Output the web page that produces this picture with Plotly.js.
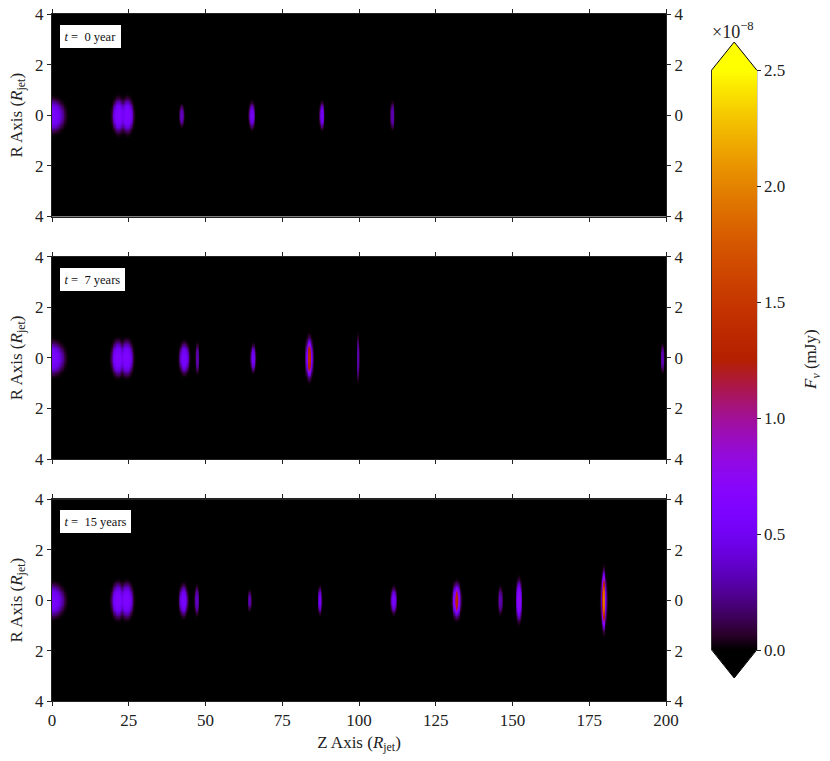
<!DOCTYPE html>
<html>
<head>
<meta charset="utf-8">
<script src="https://cdn.plot.ly/plotly-3.0.1.min.js"></script>
<style>html,body{margin:0;padding:0;background:#fff;}#plot{width:830px;height:761px;}</style>
</head>
<body>
<div id="plot"></div>
<script>
// ---------------- DATA (flux in units of 1e-8 mJy) ----------------
var panelLabels = ["<i>t</i> =  0 year", "<i>t</i> =  7 years", "<i>t</i> =  15 years"];
var xTicks = [0, 25, 50, 75, 100, 125, 150, 175, 200];
var yTickVals = [-4, -2, 0, 2, 4];
var yTickText = ["4", "2", "0", "2", "4"];
var cbTicks = [0, 0.5, 1.0, 1.5, 2.0, 2.5];
var cbTickText = ["0.0", "0.5", "1.0", "1.5", "2.0", "2.5"];

// knots: centre along Z, half-width in Z, half-height in R, peak flux
var knotZ_t0    = [0, 21.6, 24.4, 42.2, 65.0, 87.8, 110.8];
var knotW_t0    = [4.8, 2.5, 2.5, 0.9, 1.1, 1.0, 0.8];
var knotH_t0    = [0.75, 0.78, 0.78, 0.5, 0.6, 0.6, 0.6];
var knotPeak_t0 = [0.55, 0.6, 0.6, 0.35, 0.5, 0.5, 0.3];

var knotZ_t7    = [0, 21.4, 24.2, 43.0, 47.2, 65.4, 83.7, 83.7, 99.6, 198.8];
var knotW_t7    = [4.8, 2.6, 2.6, 2.0, 0.8, 1.1, 1.5, 0.9, 0.5, 0.8];
var knotH_t7    = [0.75, 0.8, 0.8, 0.7, 0.65, 0.6, 0.95, 0.85, 1.0, 0.6];
var knotPeak_t7 = [0.55, 0.6, 0.6, 0.55, 0.3, 0.5, 0.75, 1.4, 0.3, 0.3];

var knotZ_t15    = [0, 21.4, 24.2, 42.7, 47.0, 64.3, 87.2, 111.2, 131.7, 131.7, 145.9, 152.0, 179.6, 179.6, 179.6];
var knotW_t15    = [4.8, 2.6, 2.6, 1.7, 0.9, 0.6, 0.8, 1.1, 1.7, 0.9, 0.9, 1.1, 1.2, 0.7, 0.45];
var knotH_t15    = [0.75, 0.8, 0.8, 0.7, 0.65, 0.45, 0.6, 0.6, 0.8, 0.7, 0.6, 0.95, 1.25, 1.3, 1.15];
var knotPeak_t15 = [0.55, 0.6, 0.6, 0.55, 0.35, 0.3, 0.5, 0.55, 0.75, 1.35, 0.3, 0.75, 0.75, 1.6, 1.95];

var panels = [
  {z: knotZ_t0, w: knotW_t0, h: knotH_t0, p: knotPeak_t0},
  {z: knotZ_t7, w: knotW_t7, h: knotH_t7, p: knotPeak_t7},
  {z: knotZ_t15, w: knotW_t15, h: knotH_t15, p: knotPeak_t15}
];

// ---------------- grid ----------------
var zGrid = [], rGrid = [];
for (var i = 0; i <= 800; i++) zGrid.push(i * 0.25);
for (var j = 0; j <= 160; j++) rGrid.push(-4 + j * 0.05);

function buildMap(k) {
  var out = [];
  for (var j = 0; j < rGrid.length; j++) {
    var row = new Array(zGrid.length).fill(0);
    for (var b = 0; b < k.z.length; b++) {
      for (var i = 0; i < zGrid.length; i++) {
        var dz = (zGrid[i] - k.z[b]) / k.w[b];
        if (Math.abs(dz) > 1.6) continue;
        var dr = rGrid[j] / k.h[b];
        var d2 = dz * dz + dr * dr;
        var v = k.p[b] * Math.exp(-3 * d2 * d2);
        if (v > row[i]) row[i] = v;
      }
    }
    out.push(row);
  }
  return out;
}

// gnuplot colormap
var cscale = [];
for (var s = 0; s <= 40; s++) {
  var x = s / 40;
  var r = Math.sqrt(x), g = Math.pow(x, 3), bl = Math.max(0, Math.sin(2 * Math.PI * x));
  cscale.push([x, 'rgb(' + Math.round(r * 255) + ',' + Math.round(g * 255) + ',' + Math.round(bl * 255) + ')']);
}

// ---------------- layout helpers ----------------
var W = 830, H = 761;
function px(x) { return x / W; }
function py(y) { return 1 - y / H; }

var plotL = 52, plotR = 666;
var panelTops = [14, 256.7, 499.3], panelBots = [216.5, 459, 701];

var FONT = "Liberation Serif, Times New Roman, serif";
var traces = [];
var layout = {
  width: W, height: H,
  margin: {l: 0, r: 0, t: 0, b: 0},
  paper_bgcolor: 'white', plot_bgcolor: 'black',
  showlegend: false,
  font: {family: FONT, size: 17, color: '#222'},
  coloraxis: {
    cmin: 0, cmax: 2.5, colorscale: cscale,
    colorbar: {
      x: px(711.7), xanchor: 'left', xpad: 0, ypad: 0,
      y: (py(650) + py(70)) / 2, yanchor: 'middle',
      len: py(70) - py(650), lenmode: 'fraction',
      thickness: 45, thicknessmode: 'pixels',
      outlinewidth: 0,
      ticks: 'outside', ticklen: 4, tickcolor: '#222',
      tickvals: cbTicks, ticktext: cbTickText,
      tickfont: {family: FONT, size: 17, color: '#222'}
    }
  },
  annotations: [],
  shapes: []
};

for (var p = 0; p < 3; p++) {
  var n = p + 1, m = p + 4;
  var xn = n === 1 ? 'x' : 'x' + n;
  var yn = n === 1 ? 'y' : 'y' + n;
  traces.push({
    type: 'heatmap', x: zGrid, y: rGrid, z: buildMap(panels[p]),
    coloraxis: 'coloraxis', zsmooth: 'best', xaxis: xn, yaxis: yn,
    hoverinfo: 'skip'
  });
  traces.push({type: 'scatter', x: [], y: [], xaxis: xn, yaxis: 'y' + m, showlegend: false});

  var xa = {
    domain: [px(plotL), px(plotR)], anchor: yn, range: [0, 200],
    tickvals: xTicks, ticks: 'outside', ticklen: 4, tickcolor: '#222',
    showline: true, linecolor: '#222', linewidth: 1, mirror: 'ticks',
    showgrid: false, zeroline: false, showticklabels: p === 2,
    tickfont: {family: FONT, size: 17, color: '#222'}
  };
  if (p === 2) xa.title = {text: 'Z Axis (<i>R</i><sub>jet</sub>)', font: {family: FONT, size: 17, color: '#222'}, standoff: 6};
  layout['xaxis' + (n === 1 ? '' : n)] = xa;

  var dom = [py(panelBots[p]), py(panelTops[p])];
  layout['yaxis' + (n === 1 ? '' : n)] = {
    domain: dom, anchor: xn, range: [-4, 4],
    tickvals: yTickVals, ticktext: yTickText, ticks: 'outside', ticklen: 4, tickcolor: '#222',
    showline: true, linecolor: '#222', linewidth: 1,
    showgrid: false, zeroline: false,
    tickfont: {family: FONT, size: 17, color: '#222'},
    title: {text: 'R Axis (<i>R</i><sub>jet</sub>)', font: {family: FONT, size: 17, color: '#222'}, standoff: 8}
  };
  layout['yaxis' + m] = {
    overlaying: yn, side: 'right', anchor: xn, range: [-4, 4],
    tickvals: yTickVals, ticktext: yTickText, ticks: 'outside', ticklen: 4, tickcolor: '#222',
    showline: true, linecolor: '#222', linewidth: 1,
    showgrid: false, zeroline: false,
    tickfont: {family: FONT, size: 17, color: '#222'}
  };

  layout.annotations.push({
    xref: xn + ' domain', yref: yn + ' domain',
    x: 0.013, y: 0.945, xanchor: 'left', yanchor: 'top',
    text: panelLabels[p], showarrow: false,
    font: {family: FONT, size: 12.5, color: '#111'},
    bgcolor: 'white', bordercolor: 'white', borderpad: 3.5
  });
}

// colorbar title and multiplier
layout.annotations.push({
  xref: 'paper', yref: 'paper', x: px(733), y: py(31), xanchor: 'center', yanchor: 'middle',
  text: '×10<sup>−8</sup>', showarrow: false, font: {family: FONT, size: 18, color: '#222'}
});
layout.annotations.push({
  xref: 'paper', yref: 'paper', x: px(812), y: py(360), xanchor: 'center', yanchor: 'middle',
  text: '<i>F</i><sub><i>ν</i></sub> (mJy)', textangle: -90, showarrow: false,
  font: {family: FONT, size: 17, color: '#222'}
});

// extend triangles and outline of the colorbar
var cx1 = px(711.7), cx2 = px(756.7), cxm = px(734.2);
layout.shapes.push({
  type: 'path', xref: 'paper', yref: 'paper', layer: 'above',
  path: 'M' + cx1 + ',' + py(70.5) + ' L' + cxm + ',' + py(42) + ' L' + cx2 + ',' + py(70.5) + ' Z',
  fillcolor: 'rgb(255,255,0)', line: {width: 0}
});
layout.shapes.push({
  type: 'path', xref: 'paper', yref: 'paper', layer: 'above',
  path: 'M' + cx1 + ',' + py(649.5) + ' L' + cxm + ',' + py(678) + ' L' + cx2 + ',' + py(649.5) + ' Z',
  fillcolor: 'black', line: {width: 0}
});
layout.shapes.push({
  type: 'path', xref: 'paper', yref: 'paper', layer: 'above',
  path: 'M' + cx1 + ',' + py(650) + ' L' + cx1 + ',' + py(70) + ' L' + cxm + ',' + py(42) +
        ' L' + cx2 + ',' + py(70) + ' L' + cx2 + ',' + py(650) + ' L' + cxm + ',' + py(678) + ' Z',
  line: {color: 'black', width: 1}
});

Plotly.newPlot('plot', traces, layout, {staticPlot: true, displayModeBar: false});
</script>
</body>
</html>
